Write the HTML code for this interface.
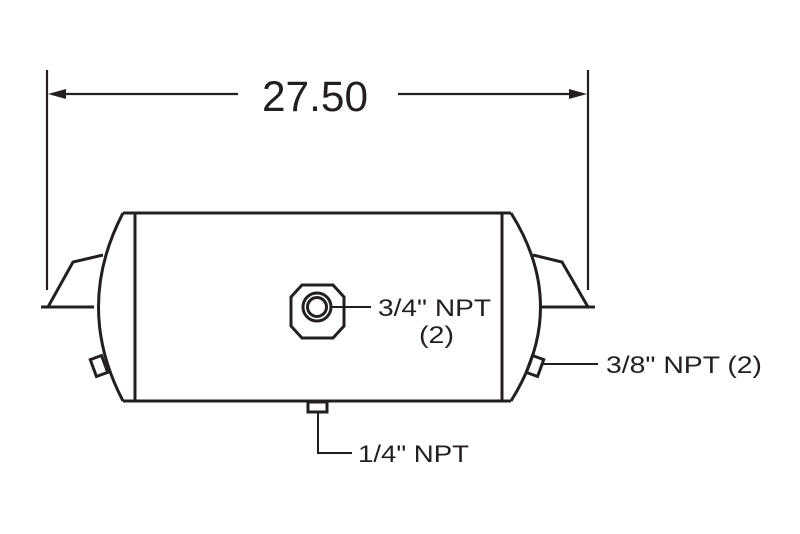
<!DOCTYPE html>
<html><head><style>
html,body{margin:0;padding:0;background:#fff;}
svg{display:block}
text{font-family:"Liberation Sans",sans-serif;fill:#231f20}
</style></head><body>
<svg width="800" height="534" viewBox="0 0 800 534" xmlns="http://www.w3.org/2000/svg">
<g stroke="#231f20" fill="none" stroke-width="2.2">
<line x1="47" y1="70" x2="47" y2="290"/>
<line x1="588" y1="70" x2="588" y2="290"/>
<line x1="52" y1="94" x2="238" y2="94"/>
<line x1="398" y1="94" x2="583" y2="94"/>
</g>
<polygon points="48,94 66,89 66,99" fill="#231f20"/>
<polygon points="587,94 569,89 569,99" fill="#231f20"/>
<text x="262" y="111" font-size="43" textLength="106" lengthAdjust="spacingAndGlyphs">27.50</text>
<g stroke="#231f20" fill="none" stroke-width="3">
<line x1="123" y1="213" x2="511" y2="213"/>
<line x1="123" y1="401" x2="511" y2="401"/>
<line x1="135" y1="213" x2="135" y2="401"/>
<line x1="502" y1="213" x2="502" y2="401"/>
<path d="M123,213 Q74,307 123,401"/>
<path d="M511,213 Q570,307 511,401"/>
<polyline points="41,307 94,307"/>
<polyline points="48,307 73,262 103,255"/>
<polyline points="541,307 595,307"/>
<polyline points="588,307 562,262 533,255"/>
<rect x="-6" y="-9" width="12" height="18" transform="translate(99,366) rotate(-20)"/>
<rect x="-6" y="-9" width="12" height="18" transform="translate(535,366) rotate(20)"/>
<polygon points="302,285 333,285 344,297 344,326 333,338 302,338 291,326 291,297"/>
<circle cx="317" cy="307" r="14"/>
<circle cx="317" cy="307" r="9.5"/>
<rect x="308" y="402" width="19" height="10"/>
</g>
<g stroke="#231f20" fill="none" stroke-width="2">
<line x1="331" y1="307" x2="371" y2="307"/>
<line x1="541" y1="364" x2="598" y2="364"/>
<polyline points="318,412 318,453 352,453"/>
</g>
<text x="378" y="316" font-size="24" textLength="113" lengthAdjust="spacingAndGlyphs">3/4" NPT</text>
<text x="419" y="343" font-size="24" textLength="35" lengthAdjust="spacingAndGlyphs">(2)</text>
<text x="606" y="373" font-size="24" textLength="156" lengthAdjust="spacingAndGlyphs">3/8" NPT (2)</text>
<text x="358" y="462" font-size="24" textLength="111" lengthAdjust="spacingAndGlyphs">1/4" NPT</text>
</svg>
</body></html>
